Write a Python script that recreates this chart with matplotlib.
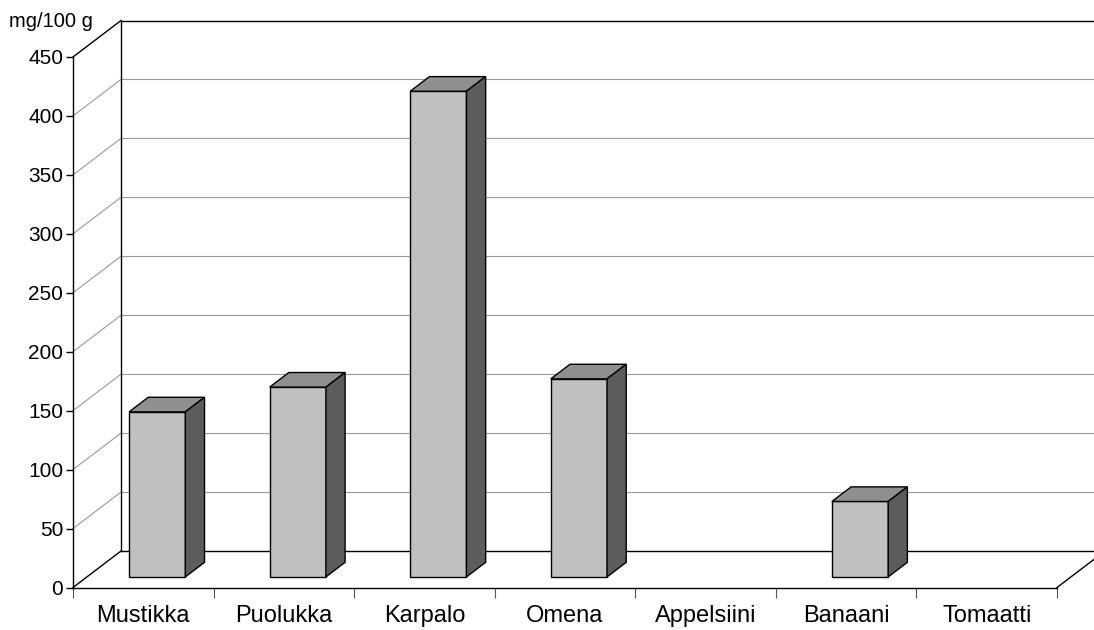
import matplotlib
matplotlib.use("Agg")
import matplotlib.pyplot as plt
from matplotlib.patches import Polygon
from matplotlib.transforms import ScaledTranslation, IdentityTransform

plt.rcParams['font.family'] = ['Liberation Sans', 'DejaVu Sans']

# data
marjat = ["Mustikka", "Puolukka", "Karpalo", "Omena", "Appelsiini", "Banaani", "Tomaatti"]
arvot = [140, 161, 412, 168, 0, 64, 0]
y_ticks = [0, 50, 100, 150, 200, 250, 300, 350, 400, 450]
yksikko = "mg/100 g"

DPI = 100
DX, DY = 48, 36.5          # depth of the box in pixels
D0, D1 = 0.29, 0.69        # depth where the bars stand
W = 0.4                    # bar width in category units

fig = plt.figure(figsize=(10.94, 6.30), dpi=DPI)
ax = fig.add_axes([73 / 1094, 42.5 / 630, 984 / 1094, 530.5 / 630])
ax.set_xlim(-0.5, len(marjat) - 0.5)
ax.set_ylim(0, 450)
ax.patch.set_visible(False)
for s in ["top", "right"]:
    ax.spines[s].set_visible(False)
for s in ["left", "bottom"]:
    ax.spines[s].set_linewidth(1.0)


def depth(d):
    # shift from the front plane to depth d (0 = front, 1 = back wall)
    return ax.transData + ScaledTranslation(DX * d / DPI, DY * d / DPI, fig.dpi_scale_trans)


def proj(x, v, d):
    px, py = ax.transData.transform((x, v))
    return px + DX * d, py + DY * d


def line3(p, q, **kw):
    ax.plot([p[0], q[0]], [p[1], q[1]], transform=IdentityTransform(), clip_on=False, **kw)


x0, x1 = -0.5, len(marjat) - 0.5
grid_col = "#9a9a9a"

# back wall and side wall
for v in y_ticks:
    col = "black" if v in (0, 450) else grid_col
    lw = 1.0 if v in (0, 450) else 0.8
    ax.plot([x0, x1], [v, v], transform=depth(1), color=col, lw=lw, clip_on=False, zorder=1)
    line3(proj(x0, v, 0), proj(x0, v, 1), color=col, lw=lw, zorder=1)
ax.plot([x0, x0], [0, 450], transform=depth(1), color="black", lw=1.0, clip_on=False, zorder=1)
line3(proj(x1, 0, 0), proj(x1, 0, 1), color="black", lw=1.0, zorder=1)

# bars
bars = ax.bar(range(len(marjat)), arvot, width=W, color="#c0c0c0",
              edgecolor="black", linewidth=1.0, zorder=3)
for i, (b, v) in enumerate(zip(bars, arvot)):
    if v <= 0:
        b.set_visible(False)
        continue
    b.set_transform(depth(D0))
    b.set_clip_on(False)
    xl, xr = i - W / 2, i + W / 2
    top = [proj(xl, v, D0), proj(xr, v, D0), proj(xr, v, D1), proj(xl, v, D1)]
    side = [proj(xr, 0, D0), proj(xr, v, D0), proj(xr, v, D1), proj(xr, 0, D1)]
    for pts, col in ((top, "#8f8f8f"), (side, "#5c5c5c")):
        ax.add_patch(Polygon(pts, closed=True, facecolor=col, edgecolor="black",
                             linewidth=1.0, transform=IdentityTransform(),
                             clip_on=False, zorder=3))

# axes ticks and labels
ax.set_yticks(y_ticks)
ax.tick_params(axis="y", direction="out", length=5, width=1.0, pad=2, labelsize=15)
ax.set_xticks(range(len(marjat)))
ax.set_xticklabels(marjat)
ax.set_xticks([i - 0.5 for i in range(len(marjat) + 1)], minor=True)
ax.tick_params(axis="x", which="major", length=0, pad=12.5, labelsize=17)
ax.tick_params(axis="x", which="minor", direction="out", length=7, width=0.8, color="#555555")

ax.annotate(yksikko, xy=(x0, 450), xytext=(-16, 21.5), textcoords="offset points",
            ha="center", va="baseline", fontsize=14.5)

fig.savefig("out.png", dpi=DPI)
